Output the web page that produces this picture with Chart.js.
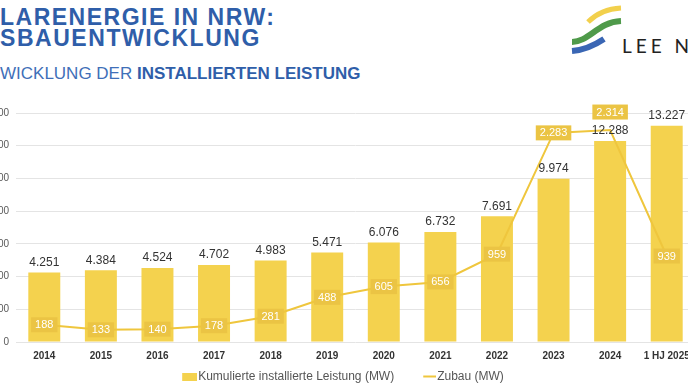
<!DOCTYPE html>
<html><head><meta charset="utf-8">
<script src="https://cdn.jsdelivr.net/npm/chart.js@4.4.1/dist/chart.umd.min.js"></script>
<style>
html,body{margin:0;padding:0;width:688px;height:387px;overflow:hidden;background:#fff;}
body{position:relative;font-family:'Liberation Sans',Arial,sans-serif;}
.t{position:absolute;left:0;white-space:nowrap;color:#2f5ea9;font-weight:bold;line-height:1;}
#t1{top:6px;font-size:23px;letter-spacing:1.5px;}
#t2{top:27px;font-size:23px;letter-spacing:1.55px;}
#t3{top:65px;font-size:17px;}
#t3 span.n{font-weight:normal;color:#3f6fb8;}
#logo{position:absolute;left:560px;top:0;}
#wrap{position:absolute;left:-40px;top:90px;width:740px;height:297px;}
</style></head>
<body>
<div class="t" id="t1">LARENERGIE IN NRW:</div>
<div class="t" id="t2">SBAUENTWICKLUNG</div>
<div class="t" id="t3"><span class="n">WICKLUNG DER </span>INSTALLIERTEN LEISTUNG</div>
<svg id="logo" width="128" height="64" viewBox="560 0 128 64">
  <path d="M588,22 Q601,9 621,8" fill="none" stroke="#f2d04c" stroke-width="5"/>
  <path d="M572,42 C589,42 598,22 621,21" fill="none" stroke="#4f9a4a" stroke-width="6"/>
  <path d="M572,51 C585,50 595,45 604,39" fill="none" stroke="#3a66b4" stroke-width="6"/>
  <text x="622" y="53" font-family="Lato, 'Noto Sans', sans-serif" font-size="19" letter-spacing="4" fill="#222">LEE N</text>
</svg>
<div id="wrap"><canvas id="c" width="740" height="297"></canvas></div>
<script>
const categories = ['2014','2015','2016','2017','2018','2019','2020','2021','2022','2023','2024','1 HJ 2025'];
const kumuliert = [4251,4384,4524,4702,4983,5471,6076,6732,7691,9974,12288,13227];
const zubau = [188,133,140,178,281,488,605,656,959,2283,2314,939];
const yTicks = [0,2000,4000,6000,8000,10000,12000,14000];
const seriesNames = ['Kumulierte installierte Leistung (MW)','Zubau (MW)'];

function de(n){ return String(n).replace(/\B(?=(\d{3})+(?!\d))/g,'.'); }
const FONT = '"Liberation Sans", Arial, sans-serif';
const BAR = '#f4d24e', LINE = '#efc63d', LBOX = '#ebc444';

function legendImg(kind){
  const c = document.createElement('canvas'); c.width = 24; c.height = 8;
  const g = c.getContext('2d');
  if (kind === 'rect') { g.fillStyle = BAR; g.fillRect(9, 0, 15, 8); }
  else { g.strokeStyle = LINE; g.lineWidth = 2; g.beginPath(); g.moveTo(11, 4); g.lineTo(24, 4); g.stroke(); }
  return c;
}
const legendStyles = [legendImg('rect'), legendImg('line')];

const labelPlugin = {
  id:'valueLabels',
  afterDatasetsDraw(chart){
    const ctx = chart.ctx;
    const barMeta = chart.getDatasetMeta(0), lineMeta = chart.getDatasetMeta(1);
    ctx.save();
    ctx.font = '11px ' + FONT;
    ctx.textAlign = 'center'; ctx.textBaseline = 'middle';
    lineMeta.data.forEach((pt,i)=>{
      const txt = de(zubau[i]);
      const barLbl = barMeta.data[i].y - 10;
      let y = pt.y;
      if (Math.abs(y - barLbl) < 12) y -= 18;
      const w = ctx.measureText(txt).width + 8, h = 15;
      ctx.fillStyle = LBOX; ctx.fillRect(pt.x - w/2, y - h/2, w, h);
      ctx.fillStyle = '#ffffff'; ctx.fillText(txt, pt.x, y + 0.5);
    });
    ctx.font = '12px ' + FONT;
    ctx.fillStyle = '#333333'; ctx.textBaseline = 'bottom';
    barMeta.data.forEach((b,i)=>{ ctx.fillText(de(kumuliert[i]), b.x, b.y - 4); });
    ctx.restore();
  }
};
const legendPlace = {
  id:'legendPlace',
  afterLayout(chart){
    const l = chart.legend; if(!l) return;
    l.left = 0; l.right = 762; l.width = 762;
    l.top = 257.5; l.bottom = chart.height; l.height = l.bottom - l.top;
  }
};

new Chart(document.getElementById('c'), {
  data:{ labels:categories, datasets:[
    { type:'bar', label:seriesNames[0], data:kumuliert, backgroundColor:BAR, yAxisID:'y', order:2,
      categoryPercentage:1, barPercentage:0.565 },
    { type:'line', label:seriesNames[1], data:zubau, borderColor:LINE, backgroundColor:LINE, borderWidth:2,
      pointRadius:0, yAxisID:'y2', order:1, tension:0, clip:false }
  ]},
  options:{
    responsive:false, animation:false, devicePixelRatio:1,
    layout:{ padding:{ top:23, right:5, bottom:2, left:0 } },
    plugins:{
      tooltip:{ enabled:false },
      legend:{ position:'bottom', maxHeight:21,
        labels:{ usePointStyle:true, pointStyleWidth:14, boxHeight:8, padding:23, color:'#555555',
          font:{ family:FONT, size:12 },
          generateLabels(chart){
            return chart.data.datasets.map((ds,i)=>({
              text: ds.label, datasetIndex:i, hidden:false, fontColor:'#555555',
              fillStyle: i===0 ? ds.backgroundColor : ds.borderColor,
              strokeStyle: i===0 ? ds.backgroundColor : ds.borderColor,
              lineWidth: 0,
              pointStyle: legendStyles[i]
            }));
          }
        }
      }
    },
    scales:{
      x:{ grid:{ display:false, drawTicks:false }, border:{ display:false },
        ticks:{ color:'#333333', font:{ family:FONT, size:10, weight:'bold' }, padding:8, maxRotation:0, autoSkip:false },
        afterFit(s){ s.height = 22; } },
      y:{ position:'left', min:yTicks[0], max:yTicks[yTicks.length-1],
        afterBuildTicks(s){ s.ticks = yTicks.map(v=>({value:v})); },
        ticks:{ color:'#595959', font:{ family:FONT, size:10 }, padding:7, callback:v=>de(v) },
        grid:{ color:'#e4e4e4', drawTicks:false }, border:{ display:false },
        afterFit(s){ s.width = 56; } },
      y2:{ display:false, min:0, max:2500 }
    }
  },
  plugins:[labelPlugin, legendPlace]
});
</script>
</body></html>
